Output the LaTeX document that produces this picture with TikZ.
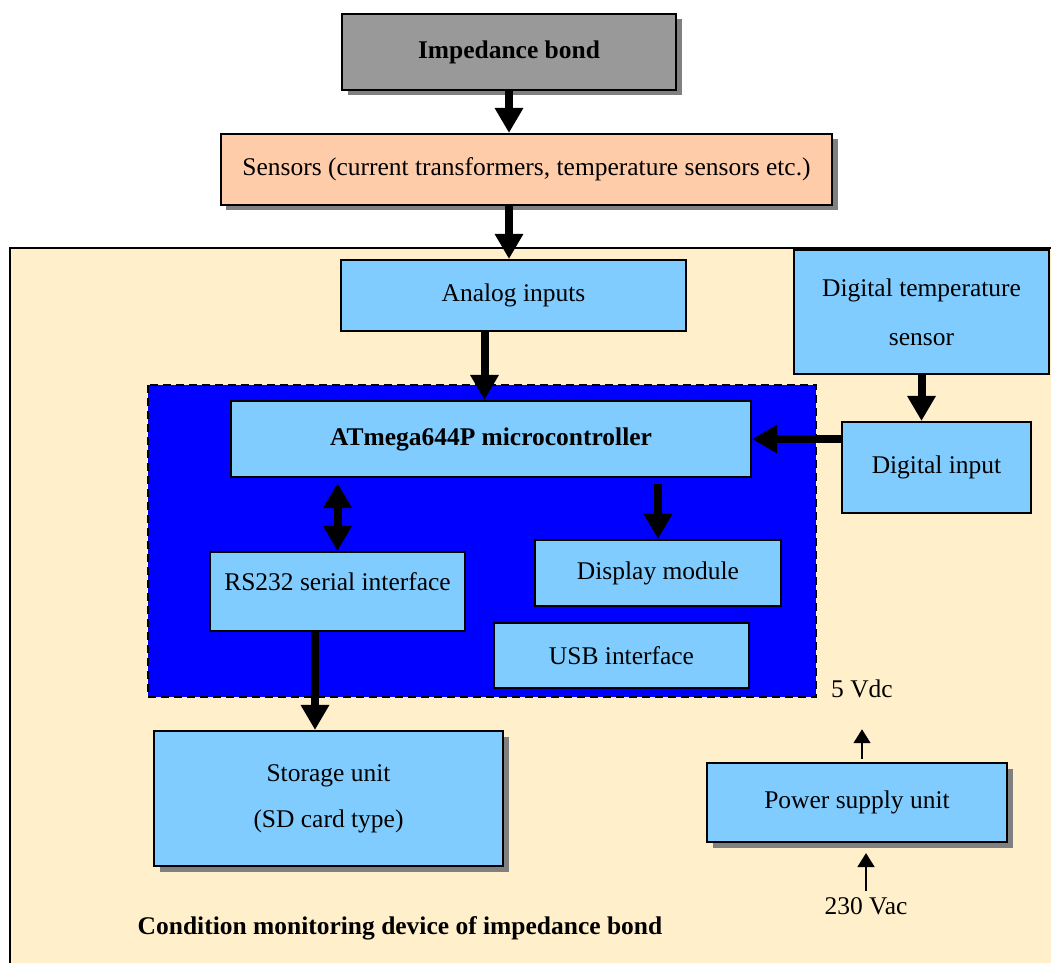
\documentclass[tikz,border=0pt]{standalone}
\usepackage{fontspec}
\setmainfont{Liberation Serif}
\usetikzlibrary{arrows.meta,shadows}

\definecolor{bondgray}{RGB}{153,153,153}
\definecolor{sensorpeach}{RGB}{255,204,170}
\definecolor{devicecream}{RGB}{255,240,203}
\definecolor{blockblue}{RGB}{128,204,255}
\definecolor{mcublue}{RGB}{0,0,255}

\begin{document}
\begin{tikzpicture}[
    % one unit = one pixel of the sketch, y grows downwards
    x=0.2mm, y=-0.2mm,
    % --- Styles ---
    block/.style={draw=black, line width=1.2pt, fill=blockblue, align=center,
                  inner sep=0pt, font=\fontsize{14.5}{17}\selectfont},
    % Grey offset shadow used on the outer blocks
    shadowed/.style={drop shadow={shadow xshift=1.1mm, shadow yshift=-1.1mm,
                  fill=black!50, opacity=1}},
    title node/.style={font=\fontsize{14.5}{17}\selectfont\bfseries},
    volt node/.style={font=\fontsize{14.5}{17}\selectfont},
    fat arrow/.style={line width=1.6mm, -{Triangle[width=5.4mm,length=5mm]}},
    fat both/.style={line width=1.6mm, {Triangle[width=5.4mm,length=5mm]}-{Triangle[width=5.4mm,length=5mm]}},
    thin arrow/.style={line width=1pt, -{Triangle[width=3.4mm,length=2.8mm]}}
]

%================CONFIGURATION================
% Frame of the whole sketch (pixels)
\def\picW{1051}
\def\picH{963}
%=============================================

\useasboundingbox (0,0) rectangle (\picW,\picH);
\clip (0,0) rectangle (\picW,\picH);

% --- 1. Outside the device ---
\node[block, shadowed, fill=bondgray, font=\fontsize{14.5}{17}\selectfont\bfseries,
      minimum width=66.8mm, minimum height=15.2mm] (bond) at (509,52) {Impedance bond};
\node[block, shadowed, fill=sensorpeach,
      minimum width=122.2mm, minimum height=14.2mm] (sensors) at (526.5,169.5)
      {Sensors (current transformers, temperature sensors etc.)};

% --- 2. Device housing and microcontroller frame ---
\draw[fill=devicecream, line width=1.1pt] (10,248) rectangle (1100,1010);
\draw[fill=mcublue, line width=1.2pt, dash pattern=on 1.6mm off 1mm] (148,385) rectangle (816,697);

% --- 3. Blocks inside the device ---
\node[block, minimum width=69mm, minimum height=14.2mm] (analog) at (513.5,295.5) {Analog inputs};
\node[block, font=\fontsize{14.5}{28}\selectfont,
      minimum width=51mm, minimum height=24.8mm] (digtemp) at (921.5,312)
      {Digital temperature\\sensor};
\node[block, font=\fontsize{14.5}{17}\selectfont\bfseries,
      minimum width=104mm, minimum height=15.2mm] (atmega) at (491,439) {ATmega644P microcontroller};
\node[block, minimum width=37.8mm, minimum height=18.2mm] (diginput) at (936.5,467.5) {Digital input};
\node[block, text depth=4mm, minimum width=51mm, minimum height=15.8mm] (rs232) at (337.5,591.5)
      {RS232 serial interface};
\node[block, minimum width=49.2mm, minimum height=13.2mm] (display) at (658,573) {Display module};
\node[block, minimum width=51mm, minimum height=13mm] (usb) at (621.5,655.5) {USB interface};
\node[block, shadowed, font=\fontsize{14.5}{26}\selectfont,
      minimum width=69.8mm, minimum height=27mm] (storage) at (328.5,798.5)
      {Storage unit\\(SD card type)};
\node[block, shadowed, minimum width=60mm, minimum height=15.8mm] (power) at (857,802.5) {Power supply unit};

% Supply labels and caption
\node[volt node] (vdc) at (862,689) {5 Vdc};
\node[volt node] (vac) at (866,906) {230 Vac};
\node[title node] (caption) at (400,928) {Condition monitoring device of impedance bond};

% --- 4. Connectors ---
\coordinate (analog out) at ([xshift=-5.8mm]analog.south);
\coordinate (rs out) at ([xshift=-4.5mm]rs232.south);

\draw[fat arrow] (bond.south) -- (bond.south |- sensors.north);
\draw[fat arrow] (sensors.south -| bond.south) -- (analog.north -| bond.south);
\draw[fat arrow] (analog out) -- (analog out |- atmega.north);
\draw[fat arrow] (digtemp.south) -- (digtemp.south |- diginput.north);
\draw[fat arrow] (diginput.west |- atmega.east) -- (atmega.east);
\draw[fat both] ([yshift=-1mm]atmega.south -| rs232.north) -- (rs232.north);
\draw[fat arrow] ([yshift=-1.2mm]atmega.south -| display.north) -- (display.north);
\draw[fat arrow] (rs out) -- (rs out |- storage.north);
\draw[thin arrow] ([yshift=0.6mm]power.north -| vdc.south) -- ([yshift=-5mm]vdc.south);
\draw[thin arrow] (vac.north) -- ([yshift=-2mm]power.south -| vac.north);

\end{tikzpicture}
\end{document}
